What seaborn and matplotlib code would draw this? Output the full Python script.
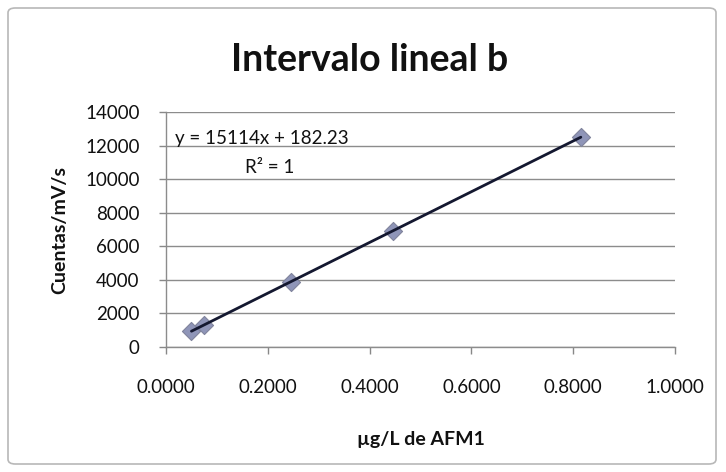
import numpy as np
import pandas as pd
import matplotlib
matplotlib.use("Agg")
import matplotlib.pyplot as plt
import seaborn as sns
from matplotlib.patches import FancyBboxPatch

# Data
conc = [0.05, 0.075, 0.245, 0.445, 0.815]          # µg/L de AFM1
counts = [940, 1320, 3885, 6910, 12500]             # Cuentas/mV/s
y_ticks = [0, 2000, 4000, 6000, 8000, 10000, 12000, 14000]
x_ticks = [0.0, 0.2, 0.4, 0.6, 0.8, 1.0]
title = "Intervalo lineal b"
xlabel = "µg/L de AFM1"
ylabel = "Cuentas/mV/s"
eq_text = "y = 15114x + 182.23"
r2_text = "R² = 1"

sns.set_theme(style="white")
plt.rcParams['font.family'] = ['Lato', 'DejaVu Sans']

df = pd.DataFrame({"x": conc, "y": counts})
slope, intercept = np.polyfit(conc, counts, 1)
fit = pd.DataFrame({"x": [min(conc), max(conc)]})
fit["y"] = slope * fit["x"] + intercept

fig = plt.figure(figsize=(7.26, 4.72), dpi=100)
fig.patch.set_facecolor("white")
ax = fig.add_axes([166/726, 1-347/472, (675-166)/726, (347-112)/472])

# Outer chart border
border = FancyBboxPatch((8/726, 8/472), (716-8)/726, (464-8)/472,
                        boxstyle="round,pad=0,rounding_size=0.01",
                        transform=fig.transFigure, fill=False,
                        edgecolor="#b8b8b8", linewidth=1.2)
fig.patches.append(border)

sns.scatterplot(data=df, x="x", y="y", ax=ax, marker="D", s=85,
                color="#8f95b8", edgecolor="#80849c", linewidth=0.8, zorder=3)
sns.lineplot(data=fit, x="x", y="y", ax=ax, color="#141830", linewidth=2.0, zorder=4)

ax.set_xlim(0, 1.0)
ax.set_ylim(0, 14000)
ax.set_xticks(x_ticks)
ax.set_xticklabels([f"{v:.4f}" for v in x_ticks])
ax.set_yticks(y_ticks)
ax.set_yticklabels([str(v) for v in y_ticks])
ax.tick_params(axis="both", labelsize=13.5, length=5,
               width=1, direction="out", bottom=True, left=True)
ax.tick_params(axis="y", pad=14)
ax.tick_params(axis="x", pad=18)
for lab in ax.get_xticklabels() + ax.get_yticklabels():
    lab.set_color("#111111")
ax.tick_params(axis="both", color="#888888")

ax.grid(axis="y", color="#8c8c8c", linewidth=1.0)
ax.grid(axis="x", visible=False)
for side in ["top", "right"]:
    ax.spines[side].set_visible(False)
for side in ["left", "bottom"]:
    ax.spines[side].set_color("#8c8c8c")
    ax.spines[side].set_linewidth(1.0)

ax.set_xlabel(xlabel, fontsize=14, fontweight="bold", color="#111111", labelpad=25)
ax.set_ylabel(ylabel, fontsize=14, fontweight="bold", color="#111111", labelpad=12)
fig.text(370/726, 1-60/472, title, ha="center", va="center",
         fontsize=27, fontweight="bold", color="#111111")

ax.text(0.018, 12450, eq_text, fontsize=13.5, color="#111111", ha="left", va="center")
ax.text(0.155, 10700, r2_text, fontsize=13.5, color="#111111", ha="left", va="center")

fig.savefig("out.png", dpi=100, facecolor="white")
